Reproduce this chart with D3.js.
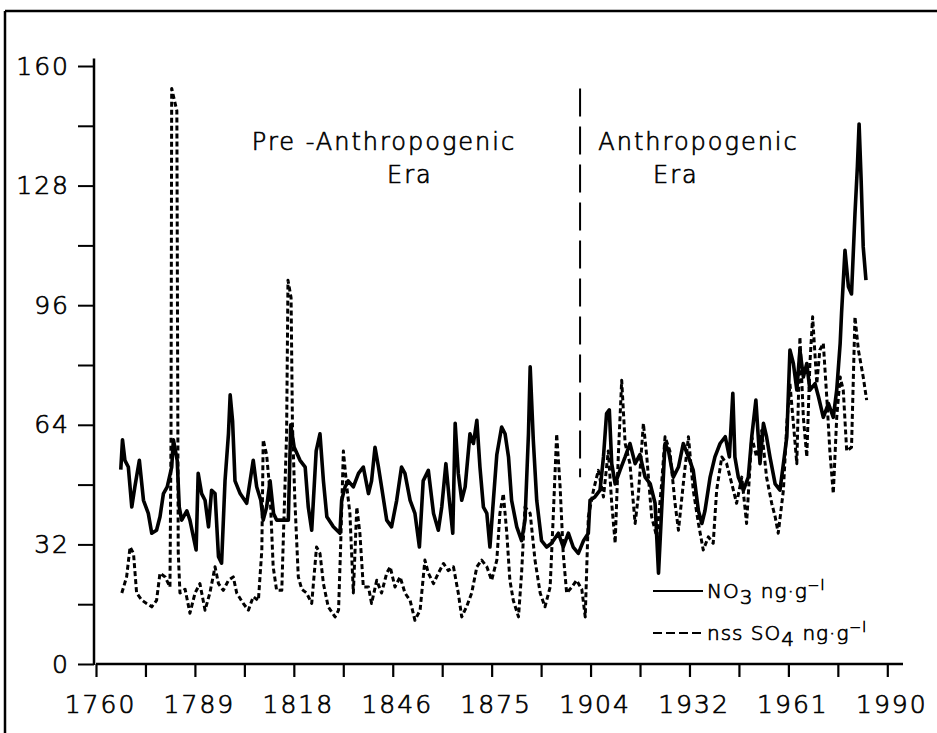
<!DOCTYPE html>
<html>
<head>
<meta charset="utf-8">
<script src="https://cdn.jsdelivr.net/npm/d3@7"></script>
<style>
  html, body { margin: 0; padding: 0; background: #fff; }
  svg { display: block; }
  text { font-family: "DejaVu Sans", sans-serif; font-weight: 200; fill: #000; stroke: #000; stroke-width: 0.7px; }
</style>
</head>
<body>
<svg id="chart" width="937" height="733"></svg>
<script>
// ---- data ----
const no3Years = [1767.2,1767.7,1768.4,1769.4,1770.4,1771.3,1772.6,1773.8,1775.2,1776.2,1777.6,1778.6,1779.6,1780.7,1782.0,1782.5,1783.6,1784.2,1784.9,1786.4,1787.3,1789.1,1789.7,1790.7,1791.7,1792.7,1793.6,1794.6,1795.6,1796.5,1797.5,1798.5,1799.0,1799.7,1800.4,1801.9,1803.8,1805.7,1806.7,1807.9,1808.6,1809.6,1810.6,1811.6,1812.5,1814.5,1815.9,1816.6,1817.6,1819.3,1820.8,1821.7,1822.7,1824.0,1825.1,1826.1,1827.1,1829.0,1830.9,1831.4,1832.4,1833.3,1834.8,1836.3,1837.7,1839.2,1840.1,1841.1,1842.1,1843.0,1844.5,1845.9,1847.4,1848.8,1849.8,1851.3,1852.7,1854.0,1855.1,1856.6,1858.1,1859.5,1860.5,1861.7,1862.7,1863.7,1864.4,1865.3,1866.3,1867.3,1868.7,1869.7,1870.7,1871.6,1872.6,1873.6,1874.5,1875.5,1876.5,1877.9,1878.9,1879.9,1880.8,1882.3,1883.7,1884.7,1885.7,1886.2,1887.1,1888.1,1889.5,1891.0,1892.4,1894.4,1895.8,1897.3,1898.7,1900.2,1901.7,1903.1,1903.6,1905.0,1906.5,1907.5,1908.4,1909.2,1909.9,1910.9,1912.3,1913.8,1915.2,1916.7,1918.1,1919.6,1921.1,1922.5,1923.5,1924.4,1925.4,1926.4,1927.8,1929.3,1930.7,1932.2,1933.6,1935.1,1936.1,1937.0,1938.5,1939.9,1941.4,1942.9,1944.1,1945.1,1945.7,1946.7,1948.2,1949.6,1950.6,1951.8,1953.0,1954.0,1954.9,1955.9,1957.4,1958.8,1959.8,1960.8,1961.7,1962.7,1963.7,1964.6,1965.6,1966.6,1967.5,1969.0,1970.0,1971.4,1972.9,1974.3,1975.3,1976.3,1976.7,1977.7,1978.7,1979.6,1980.6,1981.3,1981.8,1982.4,1983.0,1983.8];
const no3Values = [52,60,54.5,52.7,42,47.4,54.5,43.8,40.3,35,35.8,39.4,45.6,47.4,52.7,60,54.5,42,38.5,41,38.5,30.5,51,45.6,43.8,36.7,46.5,45.6,28.7,27,49,61.6,72,65,49,45.6,43,54.5,47.4,43.8,38.5,42,49,40.3,38.5,38.5,38.5,64,58,54.5,52.7,42,35.8,57,61.6,49,39.4,36.7,35,43.8,47.4,49,47.4,51,52.7,45.6,49,58,52.7,47.4,38.5,36.7,43.8,52.7,51,43.8,40.3,31.3,49,51.8,40.3,35.8,42,53.6,43.8,35,64.4,51,43.8,47.4,61.6,59,65.2,52.7,42,40.3,31.3,43.8,56,63.4,61.6,55.4,43.8,36.7,33,38.5,61.6,79.5,60,43.8,33,31.3,32.3,35,31.3,35,31.3,29.6,33,35,43.8,44.7,46.5,55.4,67,68,53.6,48.2,51.8,55.4,59,53.6,56,50,48.2,43,24.3,41,59,57,50,52.7,59,55.4,51.8,41,37.6,41,50,55.4,59,60.8,55.4,72.4,55.4,50,46.5,50,60.8,70.6,53.6,64.4,60.8,55.4,48.2,46.5,53.6,60.8,84,80.4,73.3,84,76.8,80.4,73.3,75,71.5,66,69.7,66,73.3,85.8,93.8,110.7,100.9,99,120.4,133,144.5,129.4,111.6,102.7];

const so4Years = [1767.5,1768.9,1769.9,1770.9,1771.8,1773.3,1774.7,1776.2,1777.6,1778.6,1780.1,1781.5,1781.8,1782.0,1783.5,1783.9,1784.4,1785.9,1787.3,1788.8,1790.2,1791.7,1793.1,1794.6,1795.6,1797.0,1798.5,1799.9,1800.9,1802.8,1804.3,1805.7,1807.2,1808.2,1808.6,1809.6,1810.6,1811.5,1812.5,1814.0,1814.5,1815.4,1815.8,1816.7,1817.1,1817.8,1818.8,1819.8,1821.2,1822.7,1824.1,1825.1,1826.1,1827.5,1829.5,1830.5,1831.1,1831.9,1832.9,1833.8,1834.8,1835.8,1836.7,1837.7,1839.2,1840.1,1841.6,1843.0,1844.5,1845.5,1846.9,1848.4,1849.8,1851.3,1852.7,1854.2,1855.6,1856.6,1858.1,1859.5,1861.0,1862.4,1863.9,1865.3,1866.3,1867.7,1869.2,1870.7,1872.1,1873.6,1875.0,1876.5,1877.4,1878.4,1879.4,1880.3,1881.3,1882.8,1883.7,1884.7,1886.2,1887.6,1889.1,1890.5,1892.0,1892.9,1893.9,1894.9,1895.8,1896.8,1898.3,1899.7,1901.2,1902.2,1903.1,1904.6,1906.0,1907.5,1908.9,1909.9,1910.9,1911.8,1912.8,1913.8,1915.2,1916.7,1917.6,1919.1,1920.1,1921.5,1923.0,1924.4,1925.4,1926.8,1928.3,1929.3,1930.7,1932.2,1933.6,1935.1,1936.5,1938.0,1939.4,1940.4,1941.9,1943.3,1944.8,1946.2,1947.7,1949.1,1950.6,1952.0,1953.5,1954.9,1956.4,1957.4,1958.3,1959.8,1960.8,1961.7,1962.7,1963.7,1964.6,1965.6,1966.6,1967.5,1968.3,1969.5,1970.4,1971.4,1972.4,1973.3,1974.3,1975.3,1976.3,1977.2,1978.2,1979.6,1980.6,1981.6,1983.0,1984.0];
const so4Values = [19,23.3,31.3,29.6,19,17.1,16.2,15.3,17,24.3,23.3,20.6,60,154,148,30,19,20,13.6,19,21.5,14.4,19,26,21.5,19.7,22.4,23.3,19,16.2,14.4,18,17,30.5,60,56,45.6,26,19.7,19.7,35,61.6,102.7,98,64,43.8,23.3,20,19,16.2,31.3,29.6,21.5,15.3,12.6,14.4,31.3,57,47.4,40.3,19,42,35,20.6,20.6,16.2,22.4,19,24.3,26,20.6,23.3,19,17,11.7,14.4,27.8,24.3,21.5,24.3,26.9,25,26,19,12.6,15.3,19,26,27.8,26,22.4,27.8,40.3,45.6,35,22.4,17,12.6,24.3,42,40.3,27.8,19,15.3,20.6,39.4,61.6,47.4,29.6,19,20.6,22.4,20,12.6,39.4,46.5,51.8,44.7,57,43,32.3,55.4,75.9,59,53.6,37.6,44.7,64.4,55.4,39.4,34,48.2,60.8,57,43,35.8,48.2,60.8,46.5,37.6,30.5,34,32.3,46.5,55.4,53.6,48.2,43,50,37.6,60.8,55.4,62.5,50,43,39.4,35,46.5,64.4,75,64.4,53.6,87.5,66,55.4,80.4,92.9,75,84,85.8,71.5,57,45.6,66,76.8,73.3,57,58,92.9,84,76.8,70.6];

const yTickValues = [0,16,32,48,64,80,96,112,128,144,160];
const yTickLabels = {0:"0",32:"32",64:"64",96:"96",128:"128",160:"160"};
const xTickLabels = ["1760","1789","1818","1846","1875","1904","1932","1961","1990"];
const dividerYear = 1900.7;
const dividerRange = [50, 154];
const eraLabels = [
  {lines:["Pre -Anthropogenic","Era"], year:1805.3, year2:1844.6},
  {lines:["Anthropogenic","Era"], year:1906.0, year2:1921.9}
];
const legendItems = [
  {name:"NO", sub:"3", dash:null},
  {name:"nss SO", sub:"4", dash:"9,4"}
];

// ---- drawing ----
const svg = d3.select("#chart");
const x = d3.scaleLinear().domain([1760, 1990]).range([96, 887.3]);
const y = d3.scaleLinear().domain([0, 160]).range([664, 66]);

// frame (top and left only are visible)
svg.append("line").attr("x1",5).attr("x2",937).attr("y1",11).attr("y2",11)
  .attr("stroke","#000").attr("stroke-width",2.5);
svg.append("line").attr("x1",5).attr("x2",5).attr("y1",11).attr("y2",733)
  .attr("stroke","#000").attr("stroke-width",2.5);

// x axis
const xTickVals = d3.range(17).map(i => 1760 + i * 230 / 16);
const xAxis = d3.axisBottom(x).tickValues(xTickVals)
  .tickSize(13).tickSizeOuter(0)
  .tickFormat((d,i) => i % 2 === 0 ? xTickLabels[i/2] : "");
const gx = svg.append("g").attr("transform","translate(0,664)").call(xAxis);
gx.select(".domain").remove();
gx.append("line").attr("x1",96).attr("x2",903).attr("y1",0).attr("y2",0)
  .attr("stroke","#000").attr("stroke-width",2.5);
gx.selectAll(".tick line").attr("stroke","#000").attr("stroke-width",2.2);
gx.selectAll(".tick text").attr("font-size",25).attr("dy",0).attr("y",49)
  .attr("dx",4).attr("letter-spacing",2)
  .style("font-family","'DejaVu Sans', sans-serif").style("font-weight",200);

// y axis
const yAxis = d3.axisLeft(y).tickValues(yTickValues).tickSize(16).tickSizeOuter(0)
  .tickPadding(8).tickFormat(d => yTickLabels[d] || "");
const gy = svg.append("g").attr("transform","translate(94,0)").call(yAxis);
gy.select(".domain").remove();
gy.append("line").attr("x1",0).attr("x2",0).attr("y1",y(162)).attr("y2",665)
  .attr("stroke","#000").attr("stroke-width",2.5);
gy.selectAll(".tick line").attr("stroke","#000").attr("stroke-width",2);
gy.selectAll(".tick text").attr("font-size",25).attr("letter-spacing",2)
  .style("font-family","'DejaVu Sans', sans-serif").style("font-weight",200);

// series
const line = d3.line().x(d => x(d[0])).y(d => y(d[1]));
const so4 = so4Years.map((t,i) => [t, so4Values[i]]);
const no3 = no3Years.map((t,i) => [t, no3Values[i]]);
svg.append("path").datum(so4).attr("d", line).attr("fill","none")
  .attr("stroke","#000").attr("stroke-width",3).attr("stroke-dasharray","5,3")
  .attr("stroke-linejoin","round");
svg.append("path").datum(no3).attr("d", line).attr("fill","none")
  .attr("stroke","#000").attr("stroke-width",3.6).attr("stroke-linejoin","round");

// era divider
svg.append("line").attr("x1",x(dividerYear)).attr("x2",x(dividerYear))
  .attr("y1",y(dividerRange[1])).attr("y2",y(dividerRange[0]))
  .attr("stroke","#000").attr("stroke-width",2).attr("stroke-dasharray","28,10");

// era labels
eraLabels.forEach(e => {
  svg.append("text").attr("x", x(e.year)).attr("y", 150)
    .attr("font-size", 24).attr("letter-spacing", 2).text(e.lines[0]);
  svg.append("text").attr("x", x(e.year2)).attr("y", 183)
    .attr("font-size", 24).attr("letter-spacing", 2).text(e.lines[1]);
});

// legend
legendItems.forEach((it, i) => {
  const ly = 591 + i * 42;
  svg.append("line").attr("x1",653).attr("x2",703).attr("y1",ly).attr("y2",ly)
    .attr("stroke","#000").attr("stroke-width",1.8)
    .attr("stroke-dasharray", it.dash);
  const t = svg.append("text").attr("x",707).attr("y",ly+7).attr("font-size",20)
    .attr("letter-spacing",1);
  t.append("tspan").text(it.name);
  t.append("tspan").attr("dy",6).text(it.sub);
  t.append("tspan").attr("dy",-6).text(" ng\u00b7g");
  t.append("tspan").attr("dy",-8).attr("font-size",14).text("\u2212l");
});
</script>
</body>
</html>
